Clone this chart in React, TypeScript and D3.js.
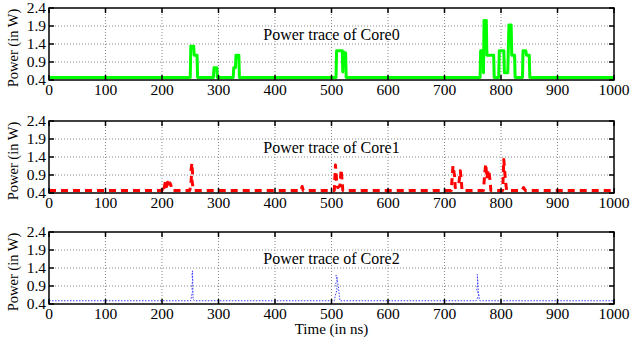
import React, { useRef, useEffect } from "react";
import * as d3 from "d3";

type Pt = [number, number];

// time (ns), power (W)
const core0Trace: Pt[] = [
  [0, 0.47], [250, 0.47], [251, 1.34], [256, 1.34], [257, 1.09], [262, 1.09], [263, 0.47],
  [291, 0.47], [292, 0.74], [297, 0.74], [298, 0.47],
  [326, 0.47], [327, 0.74], [330, 0.74], [331, 1.09], [336, 1.09], [337, 0.47],
  [508, 0.47], [509, 1.21], [519, 1.21], [520, 0.62], [521, 1.18], [525, 1.15], [526, 0.47],
  [763, 0.47], [764, 1.21], [768, 1.21], [769, 0.6], [770, 2.05], [774, 2.05], [775, 1.09],
  [787, 1.09], [788, 0.47], [796, 0.47], [797, 1.21], [805, 1.21], [806, 0.6], [812, 0.6],
  [814, 1.93], [818, 1.93], [819, 1.09], [824, 1.09], [825, 0.47],
  [838, 0.47], [839, 1.21], [844, 1.21], [845, 1.09], [850, 1.09], [851, 0.47], [1000, 0.47],
];

const core1Trace: Pt[] = [
  [0, 0.47], [200, 0.47], [202, 0.62], [204, 0.55], [206, 0.72], [208, 0.58], [210, 0.7],
  [212, 0.56], [214, 0.68], [216, 0.6], [218, 0.47],
  [249, 0.47], [251, 0.62], [252, 0.85], [251, 1.0], [253, 1.23], [254, 0.95], [253, 0.75],
  [255, 0.55], [257, 0.47],
  [446, 0.47], [448, 0.58], [450, 0.47],
  [505, 0.47], [507, 1.18], [509, 0.75], [511, 0.55], [515, 0.6], [517, 1.05], [519, 0.7], [520, 0.47],
  [712, 0.47], [715, 1.16], [718, 0.85], [719, 0.55], [725, 0.6], [728, 1.02], [730, 0.7], [731, 0.47],
  [769, 0.47], [771, 0.9], [773, 1.21], [775, 0.8], [777, 1.05], [779, 0.95], [781, 0.7], [782, 0.47],
  [803, 0.47], [805, 1.33], [807, 0.9], [809, 0.6], [810, 0.47],
  [837, 0.47], [840, 0.55], [843, 0.47], [1000, 0.47],
];

const core2Trace: Pt[] = [
  [0, 0.49], [251, 0.49], [252, 0.6], [254, 0.75], [252.5, 0.9], [254.5, 1.05], [253, 1.2],
  [254, 1.32], [255, 0.55], [257, 0.49],
  [505, 0.49], [507, 0.65], [510, 0.8], [507, 0.95], [511, 1.1], [508, 1.2], [512, 0.9],
  [514, 0.6], [515, 0.49],
  [756, 0.49], [758, 0.55], [761, 0.65], [757, 0.8], [759, 1.0], [758, 1.22], [760, 0.7],
  [762, 0.5], [763, 0.49], [1000, 0.49],
];

const xTicks = [0, 100, 200, 300, 400, 500, 600, 700, 800, 900, 1000];
const yTicks = [0.4, 0.9, 1.4, 1.9, 2.4];

const panels = [
  { title: "Power trace of Core0", data: core0Trace, color: "#00ff00", width: 3, dash: "" },
  { title: "Power trace of Core1", data: core1Trace, color: "#ff0000", width: 3, dash: "7,5" },
  { title: "Power trace of Core2", data: core2Trace, color: "#3a3aff", width: 1, dash: "1.5,1.5" },
];

export default function App() {
  const svgRef = useRef<SVGSVGElement>(null);

  useEffect(() => {
    if (!svgRef.current) return;
    const svg = d3.select(svgRef.current);
    svg.selectAll("*").remove();

    const width = 631;
    const height = 343;
    svg.attr("width", width).attr("height", height)
      .attr("font-family", "Liberation Serif, Times New Roman, serif");

    const left = 49;
    const right = 614;
    const tops = [8, 121, 232];
    const panelH = 72;

    const xScale = d3.scaleLinear().domain([0, 1000]).range([left, right]);

    panels.forEach((p, i) => {
      const top = tops[i];
      const bottom = top + panelH;
      const yScale = d3.scaleLinear().domain([0.4, 2.4]).range([bottom, top]);
      const g = svg.append("g");

      // grid
      xTicks.slice(1, -1).forEach(t => {
        g.append("line")
          .attr("x1", xScale(t)).attr("x2", xScale(t))
          .attr("y1", top).attr("y2", bottom)
          .attr("stroke", "#888").attr("stroke-width", 1)
          .attr("stroke-dasharray", "1,2");
      });
      yTicks.slice(1, -1).forEach(v => {
        g.append("line")
          .attr("x1", left).attr("x2", right)
          .attr("y1", yScale(v)).attr("y2", yScale(v))
          .attr("stroke", "#888").attr("stroke-width", 1)
          .attr("stroke-dasharray", "1,2");
      });

      // trace
      const line = d3.line<Pt>()
        .x(d => xScale(d[0]))
        .y(d => yScale(d[1]));
      g.append("path")
        .datum(p.data)
        .attr("fill", "none")
        .attr("stroke", p.color)
        .attr("stroke-width", p.width)
        .attr("stroke-dasharray", p.dash)
        .attr("stroke-linejoin", "round")
        .attr("d", line);

      // title
      g.append("text")
        .attr("x", xScale(500))
        .attr("y", top + 32)
        .attr("text-anchor", "middle")
        .attr("font-size", 16)
        .text(p.title);

      // box
      g.append("rect")
        .attr("x", left).attr("y", top)
        .attr("width", right - left).attr("height", panelH)
        .attr("fill", "none").attr("stroke", "#000").attr("stroke-width", 1.5);

      // inner ticks
      xTicks.forEach(t => {
        g.append("line").attr("x1", xScale(t)).attr("x2", xScale(t))
          .attr("y1", bottom).attr("y2", bottom - 5).attr("stroke", "#000").attr("stroke-width", 1.5);
        g.append("line").attr("x1", xScale(t)).attr("x2", xScale(t))
          .attr("y1", top).attr("y2", top + 5).attr("stroke", "#000").attr("stroke-width", 1.5);
        g.append("text")
          .attr("x", xScale(t)).attr("y", bottom + 15)
          .attr("text-anchor", "middle")
          .attr("font-size", 15.5)
          .text(`${t}`);
      });
      yTicks.forEach(v => {
        g.append("line").attr("x1", left).attr("x2", left + 5)
          .attr("y1", yScale(v)).attr("y2", yScale(v)).attr("stroke", "#000").attr("stroke-width", 1.5);
        g.append("line").attr("x1", right).attr("x2", right - 5)
          .attr("y1", yScale(v)).attr("y2", yScale(v)).attr("stroke", "#000").attr("stroke-width", 1.5);
        g.append("text")
          .attr("x", left - 3).attr("y", yScale(v))
          .attr("dy", "0.32em")
          .attr("text-anchor", "end")
          .attr("font-size", 15.5)
          .text(v.toFixed(1));
      });

      // y label
      g.append("text")
        .attr("transform", `translate(18,${(top + bottom) / 2 + 4}) rotate(-90)`)
        .attr("text-anchor", "middle")
        .attr("font-size", 14.5)
        .text("Power (in W)");
    });

    svg.append("text")
      .attr("x", xScale(500)).attr("y", 334)
      .attr("text-anchor", "middle")
      .attr("font-size", 15)
      .text("Time (in ns)");
  }, []);

  return (
    <svg ref={svgRef} style={{ position: "absolute", left: 0, top: 0, background: "#fff" }} />
  );
}
